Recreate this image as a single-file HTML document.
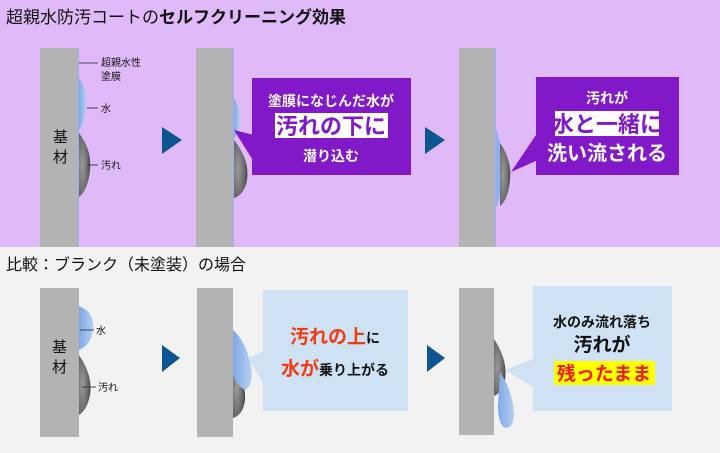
<!DOCTYPE html>
<html><head><meta charset="utf-8"><style>
body{margin:0;width:720px;height:448px;overflow:hidden;background:#f2f2f2}
text{font-family:"Liberation Sans","Noto Sans CJK JP",sans-serif}
</style></head><body>
<svg width="720" height="448" viewBox="0 0 720 448" xmlns="http://www.w3.org/2000/svg">
<defs>
<radialGradient id="dirt" cx="0.3" cy="0.5" r="0.8"><stop offset="0" stop-color="#9a9a9a"/><stop offset="0.6" stop-color="#6a6a6a"/><stop offset="1" stop-color="#333"/></radialGradient>
<linearGradient id="wat" x1="0" x2="1"><stop offset="0" stop-color="#7fa9e6"/><stop offset="1" stop-color="#b7d0f2"/></linearGradient>
</defs>
<rect x="0" y="0" width="720" height="247" fill="#e0baf8"/>
<text x="6" y="23" font-size="17" fill="#111">超親水防汚コートの<tspan font-weight="bold">セルフクリーニング効果</tspan></text>
<!-- top walls -->
<rect x="40" y="48" width="37" height="199" fill="#b3b3b3"/><rect x="77" y="48" width="2" height="199" fill="#a9b0d6"/>
<rect x="196" y="48" width="36" height="199" fill="#b3b3b3"/><rect x="232" y="48" width="2" height="199" fill="#a9b0d6"/>
<rect x="459" y="48" width="35" height="199" fill="#b3b3b3"/><rect x="494" y="48" width="2" height="199" fill="#a9b0d6"/>
<text x="53" y="142" font-size="15" fill="#111">基</text><text x="53" y="162" font-size="15" fill="#111">材</text>
<!-- panel1 -->
<path d="M79 78 Q88 90 86 106 Q85 122 79 130 Z" fill="url(#wat)"/>
<path d="M79 133 Q92 150 90 170 Q88 190 79 197 Z" fill="url(#dirt)"/>
<line x1="79" y1="63" x2="98" y2="63" stroke="#222" stroke-width="0.8"/>
<text x="101" y="66" font-size="10" fill="#111">超親水性</text><text x="101" y="80" font-size="10" fill="#111">塗膜</text>
<line x1="87" y1="108" x2="98" y2="108" stroke="#222" stroke-width="0.8"/><text x="101" y="112" font-size="10" fill="#111">水</text>
<line x1="87" y1="165" x2="98" y2="165" stroke="#222" stroke-width="0.8"/><text x="101" y="169" font-size="10" fill="#111">汚れ</text>
<polygon points="162,127 182,140 162,154" fill="#0d5591"/>
<!-- panel2 -->
<path d="M234 98 Q242 112 240 124 Q238 134 234 138 Z" fill="url(#wat)"/>
<path d="M234 140 Q250 160 247 180 Q244 195 234 198 Z" fill="url(#dirt)"/>
<rect x="252" y="78" width="159" height="97" fill="#8119c8"/>
<polygon points="234,130 254,135 254,162" fill="#8119c8"/>
<text x="331" y="106" font-size="14" font-weight="bold" fill="#fff" text-anchor="middle">塗膜になじんだ水が</text>
<rect x="275" y="113" width="113" height="25" fill="#fff"/>
<text x="331" y="134" font-size="22" font-weight="bold" fill="#8119c8" text-anchor="middle">汚れの下に</text>
<text x="331" y="161" font-size="14" font-weight="bold" fill="#fff" text-anchor="middle">潜り込む</text>
<polygon points="425,127 445,140 425,154" fill="#0d5591"/>
<!-- panel3 -->
<path d="M496 129 Q504 150 502 175 Q500 200 496 208 Z" fill="#8fb0ee"/>
<path d="M500 143 Q512 160 510 180 Q508 200 500 206 Z" fill="url(#dirt)"/>
<rect x="536" y="77" width="143" height="98" fill="#8119c8"/>
<polygon points="511,172 538,132 538,160" fill="#8119c8"/>
<text x="607" y="103" font-size="14" font-weight="bold" fill="#fff" text-anchor="middle">汚れが</text>
<rect x="555" y="111" width="104" height="25" fill="#fff"/>
<text x="607" y="132" font-size="22" font-weight="bold" fill="#8119c8" text-anchor="middle">水と一緒に</text>
<text x="607" y="160" font-size="20" font-weight="bold" fill="#fff" text-anchor="middle">洗い流される</text>
<!-- bottom -->
<text x="6" y="270" font-size="16" fill="#111">比較：ブランク（未塗装）の場合</text>
<rect x="40" y="288" width="39" height="149" fill="#b3b3b3"/>
<rect x="197" y="288" width="36" height="149" fill="#b3b3b3"/>
<rect x="459" y="288" width="35" height="147" fill="#b3b3b3"/>
<text x="52" y="352" font-size="15" fill="#111">基</text><text x="52" y="372" font-size="15" fill="#111">材</text>
<path d="M79 306 Q95 312 93 330 Q91 345 79 350 Z" fill="url(#wat)"/>
<path d="M79 355 Q93 375 90 395 Q87 410 79 415 Z" fill="url(#dirt)"/>
<line x1="80" y1="330" x2="94" y2="330" stroke="#222" stroke-width="0.8"/><text x="96" y="334" font-size="10" fill="#111">水</text>
<line x1="82" y1="387" x2="96" y2="387" stroke="#222" stroke-width="0.8"/><text x="98" y="391" font-size="10" fill="#111">汚れ</text>
<polygon points="162,345 180,358 162,372" fill="#0d5591"/>
<path d="M233 360 Q246 380 245 400 Q243 415 233 418 Z" fill="url(#dirt)"/>
<path d="M233 330 Q245 340 251 365 Q254 385 245 390 Q236 385 233 375 Z" fill="url(#wat)"/>
<rect x="263" y="290" width="145" height="121" fill="#cfe2f3"/>
<polygon points="248,358 266,350 266,388" fill="#cfe2f3"/>
<text x="335" y="343" font-size="19" font-weight="bold" fill="#f03c14" text-anchor="middle">汚れの上<tspan fill="#111" font-size="14">に</tspan></text>
<text x="335" y="375" font-size="19" font-weight="bold" fill="#f03c14" text-anchor="middle">水が<tspan fill="#111" font-size="14">乗り上がる</tspan></text>
<polygon points="427,345 445,358 427,372" fill="#0d5591"/>
<path d="M494 339 Q508 360 505 380 Q502 393 494 396 Z" fill="url(#dirt)"/>
<path d="M500 372 Q512 390 514 412 Q514 428 506 428 Q498 426 498 405 Z" fill="url(#wat)"/>
<rect x="533" y="286" width="139" height="125" fill="#cfe2f3"/>
<polygon points="505,370 535,358 535,388" fill="#cfe2f3"/>
<text x="602" y="327" font-size="14" font-weight="bold" fill="#111" text-anchor="middle">水のみ流れ落ち</text>
<text x="602" y="351" font-size="19" font-weight="bold" fill="#111" text-anchor="middle">汚れが</text>
<rect x="554" y="361" width="101" height="24" fill="#ffff00"/>
<text x="604" y="380" font-size="19" font-weight="bold" fill="#f02020" text-anchor="middle">残ったまま</text>
</svg>
</body></html>
